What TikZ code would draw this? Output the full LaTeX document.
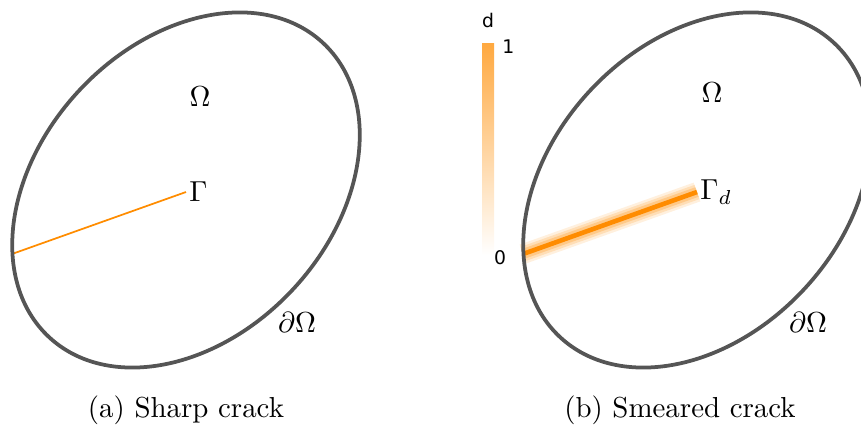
\documentclass[tikz,border=0pt]{standalone}
\usepackage{fontspec}
\newfontfamily\barfont{DejaVu Sans}
\usetikzlibrary{positioning}
\definecolor{crackorange}{RGB}{255, 140, 0}
\definecolor{boundgray}{RGB}{85, 85, 85}

\begin{document}
\begin{tikzpicture}[
      x=0.346pt, y=0.346pt,
      boundary/.style={draw=boundgray, line width=1.3pt},
      sharpcrack/.style={draw=crackorange, line width=0.6pt},
      band/.style={draw=crackorange, line cap=butt},
      barlabel/.style={font=\barfont\fontsize{6.5}{7}\selectfont, inner sep=1pt},
      caption/.style={font=\normalsize}
  ]
  \useasboundingbox (0,0) rectangle (861,425);

  % (a) Sharp crack
  \coordinate (leftc) at (186,235);
  \coordinate (tipa) at (186,233);
  \coordinate (roota) at (12,171);
  \draw[sharpcrack] (roota) -- (tipa);
  \draw[boundary, rotate around={47:(leftc)}] (leftc) ellipse (201 and 146);
  \node (omegaa) at (200,328) {$\Omega$};
  \node[right=0pt of tipa, inner sep=1pt] (gammaa) {$\Gamma$};
  \node (bounda) at (297,103) {$\partial\Omega$};
  \node[caption] (capa) at (186,15) {(a) Sharp crack};

  % (b) Smeared crack
  \coordinate (rightc) at (697,235);
  \coordinate (tipb) at (697,233);
  \coordinate (rootb) at (523,171);
  \draw[band, line width=6.9pt, opacity=0.13] (rootb) -- (tipb);
  \draw[band, line width=5.2pt, opacity=0.18] (rootb) -- (tipb);
  \draw[band, line width=3.5pt, opacity=0.25] (rootb) -- (tipb);
  \draw[band, line width=1.6pt] (rootb) -- (tipb);
  \draw[boundary, rotate around={47:(rightc)}] (rightc) ellipse (201 and 146);
  \node (omegab) at (712,332) {$\Omega$};
  \node[right=0pt of tipb, inner sep=1pt] (gammab) {$\Gamma_d$};
  \node (boundb) at (808,103) {$\partial\Omega$};
  \node[caption] (capb) at (680,15) {(b) Smeared crack};

  % Colour bar
  \shade[top color=crackorange!75, bottom color=white] (482,170) rectangle (494,382);
  \node[barlabel] (bartitle) at (488,405) {d};
  \node[barlabel, anchor=west] (barmax) at (499,378) {1};
  \node[barlabel] (barmin) at (500,167) {0};

\end{tikzpicture}
\end{document}
